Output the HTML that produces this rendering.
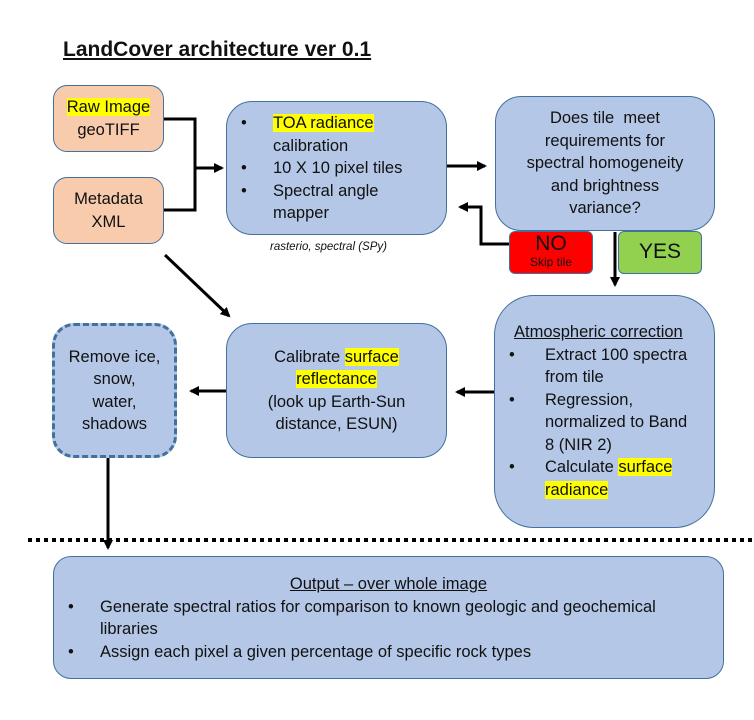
<!DOCTYPE html>
<html><head><meta charset="utf-8"><style>
body{margin:0;width:754px;height:720px;background:#fff;position:relative;overflow:hidden;font-family:"Liberation Sans",sans-serif;color:#111}
.b{position:absolute;box-sizing:border-box;background:#b4c7e7;border:1.5px solid #41719c;border-radius:26px;font-size:16.5px;line-height:22.5px}
.o{background:#f8cbad;border-radius:14px;text-align:center;display:flex;flex-direction:column;justify-content:center}
.c{text-align:center;display:flex;flex-direction:column;justify-content:center}
.h{background:#ffff00}
ul{margin:0;padding:0;list-style:none}
li{position:relative;padding-left:46px;white-space:nowrap}
li:before{content:"•";position:absolute;left:14px}
svg{position:absolute;left:0;top:0}
</style></head><body>
<div style="position:absolute;left:63px;top:38px;font-size:21px;font-weight:bold;text-decoration:underline;letter-spacing:0px">LandCover architecture ver 0.1</div>

<div class="b o" style="left:53px;top:85px;width:111px;height:67px"><div><span class="h">Raw Image</span></div><div>geoTIFF</div></div>
<div class="b o" style="left:53px;top:177px;width:111px;height:67px"><div>Metadata</div><div>XML</div></div>

<div class="b" style="left:226px;top:101px;width:221px;height:134px;padding-top:10px">
<ul><li><span class="h">TOA radiance</span><br>calibration</li><li>10 X 10 pixel tiles</li><li>Spectral angle<br>mapper</li></ul></div>
<div style="position:absolute;left:270px;top:241px;font-size:11.5px;font-style:italic">rasterio, spectral (SPy)</div>

<div class="b c" style="left:495px;top:96px;width:220px;height:135px"><div>Does tile&nbsp; meet<br>requirements for<br>spectral homogeneity<br>and brightness<br>variance?</div></div>

<div class="b" style="left:509px;top:231px;width:84px;height:43px;background:#ff0000;border-radius:6px;text-align:center"><div style="font-size:21px;line-height:22px;margin-top:1px">NO</div><div style="font-size:12px;line-height:14px">Skip tile</div></div>
<div class="b c" style="left:618px;top:231px;width:84px;height:43px;background:#92d050;border-radius:6px;font-size:21px">YES</div>

<div class="b" style="left:494px;top:295px;width:221px;height:233px;border-radius:40px;padding-top:25px">
<div style="padding-left:19px;text-decoration:underline">Atmospheric correction</div>
<ul><li style="padding-left:50px">Extract 100 spectra<br>from tile</li><li style="padding-left:50px">Regression,<br>normalized to Band<br>8 (NIR 2)</li><li style="padding-left:50px">Calculate <span class="h">surface</span><br><span class="h">radiance</span></li></ul></div>

<div class="b c" style="left:226px;top:323px;width:221px;height:135px"><div>Calibrate <span class="h">surface</span><br><span class="h">reflectance</span><br>(look up Earth-Sun<br>distance, ESUN)</div></div>

<div class="b c" style="left:52px;top:323px;width:125px;height:135px;border:3.5px dashed #41719c;border-radius:22px"><div>Remove ice,<br>snow,<br>water,<br>shadows</div></div>

<div class="b" style="left:53px;top:556px;width:671px;height:123px;border-radius:18px;padding-top:16px">
<div style="text-align:center;text-decoration:underline">Output – over whole image</div>
<ul><li>Generate spectral ratios for comparison to known geologic and geochemical<br>libraries</li><li>Assign each pixel a given percentage of specific rock types</li></ul></div>

<svg width="754" height="720">
<defs><marker id="a" markerWidth="10" markerHeight="10" refX="8" refY="5" orient="auto" markerUnits="userSpaceOnUse"><path d="M0,0 L10,5 L0,10 Z" fill="#000"/></marker></defs>
<g stroke="#000" stroke-width="3" fill="none">
<polyline points="164,119 195,119 195,210 164,210"/>
<line x1="195" y1="168" x2="222" y2="168" marker-end="url(#a)"/>
<line x1="447" y1="166" x2="485" y2="166" marker-end="url(#a)"/>
<polyline points="509,244 481,244 481,207 460,207" marker-end="url(#a)"/>
<line x1="615" y1="232" x2="615" y2="285" marker-end="url(#a)"/>
<line x1="494" y1="392" x2="457" y2="392" marker-end="url(#a)"/>
<line x1="226" y1="391" x2="191" y2="391" marker-end="url(#a)"/>
<line x1="165" y1="255" x2="229" y2="316" marker-end="url(#a)"/>
<line x1="108" y1="458" x2="108" y2="548" marker-end="url(#a)"/>
<line x1="28" y1="540" x2="754" y2="540" stroke-width="4" stroke-dasharray="4,4"/>
</g></svg>
</body></html>
